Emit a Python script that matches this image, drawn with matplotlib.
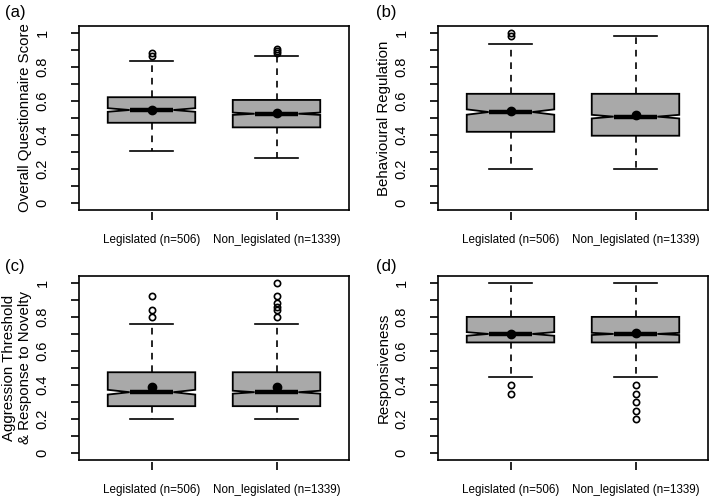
import numpy as np
import matplotlib.pyplot as plt

plt.rcParams['font.family'] = ['Liberation Sans', 'DejaVu Sans']

# groups and sample sizes
groups = ['Legislated', 'Non_legislated']
group_n = [506, 1339]
tick_labels = [f'{g} (n={n})' for g, n in zip(groups, group_n)]

panel_tags = ['(a)', '(b)', '(c)', '(d)']
panel_ylabels = ['Overall Questionnaire Score',
                 'Behavioural Regulation',
                 'Aggression Threshold\n& Response to Novelty',
                 'Responsiveness']

# box statistics, one pair [Legislated, Non_legislated] per panel
q1 = [[0.472, 0.445], [0.419, 0.396], [0.276, 0.276], [0.65, 0.65]]
medians = [[0.547, 0.525], [0.535, 0.508], [0.358, 0.358], [0.70, 0.70]]
q3 = [[0.622, 0.606], [0.642, 0.642], [0.475, 0.475], [0.80, 0.80]]
whisk_lo = [[0.307, 0.268], [0.20, 0.20], [0.20, 0.20], [0.447, 0.447]]
whisk_hi = [[0.835, 0.862], [0.933, 0.98], [0.76, 0.76], [1.0, 1.0]]
means = [[0.545, 0.531], [0.54, 0.52], [0.386, 0.388], [0.70, 0.705]]
outliers = [
    [[0.862, 0.88], [0.88, 0.892, 0.905]],
    [[0.98, 1.0], []],
    [[0.80, 0.84, 0.92], [0.80, 0.84, 0.86, 0.88, 0.92, 1.0]],
    [[0.35, 0.40], [0.20, 0.25, 0.30, 0.35, 0.40]],
]

W, H = 709, 499
fig = plt.figure(figsize=(W / 100, H / 100), dpi=100)

# axes boxes in pixels: left, top
ax_pos = [(79, 26), (438, 26), (79, 276), (438, 276)]
ax_w, ax_h = 270, 184
tag_pos = [(5, 12), (376, 12), (5, 267), (376, 267)]

for i in range(4):
    left, top = ax_pos[i]
    ax = fig.add_axes([left / W, 1 - (top + ax_h) / H, ax_w / W, ax_h / H])

    stats = []
    for j in range(2):
        iqr = q3[i][j] - q1[i][j]
        half = 1.58 * iqr / np.sqrt(group_n[j])
        stats.append(dict(med=medians[i][j], q1=q1[i][j], q3=q3[i][j],
                          whislo=whisk_lo[i][j], whishi=whisk_hi[i][j],
                          cilo=medians[i][j] - half, cihi=medians[i][j] + half,
                          fliers=outliers[i][j]))

    ax.bxp(stats, positions=[1, 2], widths=0.7, shownotches=True,
           patch_artist=True, showfliers=True,
           boxprops=dict(facecolor='#a9a9a9', edgecolor='black', linewidth=1.3),
           medianprops=dict(color='black', linewidth=3.2, solid_capstyle='butt'),
           whiskerprops=dict(color='black', linewidth=1.2, linestyle=(0, (4, 3.5))),
           capprops=dict(color='black', linewidth=1.2),
           flierprops=dict(marker='o', markersize=4.5, markerfacecolor='none',
                           markeredgecolor='black', markeredgewidth=1.2))
    ax.plot([1, 2], means[i], 'o', color='black', markersize=6, zorder=5)

    ax.set_xlim(0.42, 2.58)
    ax.set_ylim(-0.04, 1.04)
    for s in ax.spines.values():
        s.set_linewidth(1.2)

    # x ticks drawn slightly detached from the box, as in base R
    ax.tick_params(axis='x', bottom=False, labelbottom=False)
    sec = ax.secondary_xaxis(-0.012)
    sec.spines['bottom'].set_visible(False)
    sec.set_xticks([1, 2], labels=tick_labels)
    sec.tick_params(axis='x', length=6, width=1.2, pad=10, labelsize=8.4)

    ax.set_yticks([0, 0.2, 0.4, 0.6, 0.8, 1.0],
                  labels=['0', '0.2', '0.4', '0.6', '0.8', '1'])
    ax.set_yticks(np.arange(0.1, 1.0, 0.2), minor=True)
    ax.tick_params(axis='y', which='both', length=6, width=1.2)
    ax.tick_params(axis='y', which='major', labelsize=10.5, labelrotation=90, pad=15)
    for lab in ax.get_yticklabels():
        lab.set_va('center')

    ax.set_ylabel(panel_ylabels[i], fontsize=10.8, linespacing=1.15)
    ax.yaxis.set_label_coords(-0.175, 0.5)

    tx, ty = tag_pos[i]
    fig.text(tx / W, 1 - ty / H, panel_tags[i], fontsize=12, ha='left', va='center')

fig.savefig('out.png', dpi=100)
